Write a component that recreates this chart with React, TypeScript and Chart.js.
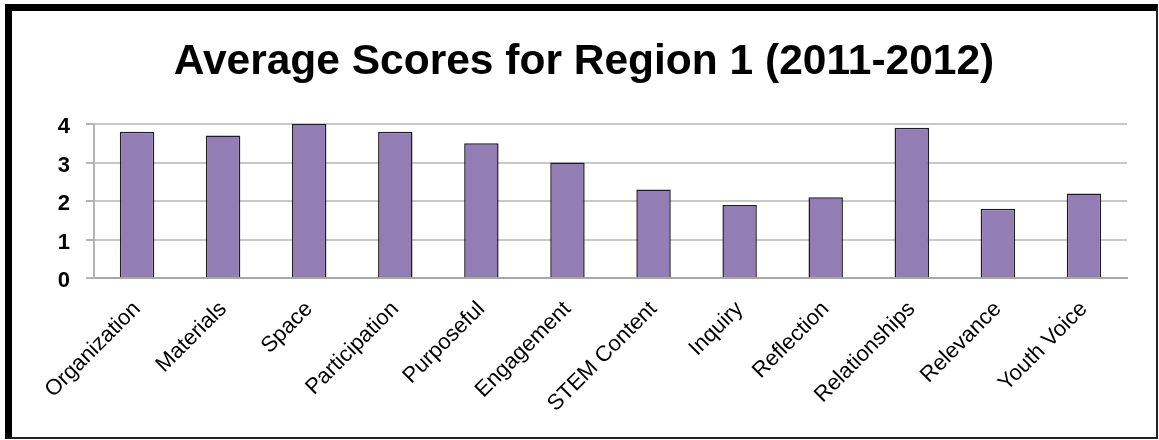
import React, { useEffect, useRef } from "react";
import { Chart, registerables } from "chart.js";

Chart.register(...registerables);

const categories: string[] = [
  "Organization",
  "Materials",
  "Space",
  "Participation",
  "Purposeful",
  "Engagement",
  "STEM Content",
  "Inquiry",
  "Reflection",
  "Relationships",
  "Relevance",
  "Youth Voice",
];

const averageScores: number[] = [3.8, 3.7, 4.0, 3.8, 3.5, 3.0, 2.3, 1.9, 2.1, 3.9, 1.8, 2.2];

const yTicks: number[] = [0, 1, 2, 3, 4];

const titleText = "Average Scores for Region 1 (2011-2012)";

const FONT = 'Arial, "Liberation Sans", sans-serif';

export default function App() {
  const canvasRef = useRef<HTMLCanvasElement | null>(null);

  useEffect(() => {
    const canvas = canvasRef.current;
    if (!canvas) return;
    const chart = new Chart(canvas, {
      type: "bar",
      data: {
        labels: categories,
        datasets: [
          {
            data: averageScores,
            backgroundColor: "#927db4",
            borderColor: "#1e1e1e",
            borderWidth: 1.5,
            barPercentage: 0.4,
            categoryPercentage: 1,
          },
        ],
      },
      options: {
        responsive: false,
        animation: false,
        layout: { padding: { left: 0, right: 0, top: 0, bottom: 0 } },
        plugins: {
          legend: { display: false },
          tooltip: { enabled: false },
          title: {
            display: true,
            text: titleText,
            color: "#000",
            font: { family: FONT, size: 42.5, weight: "bold" },
            padding: { top: 26, bottom: 36 },
          },
        },
        scales: {
          x: {
            grid: { display: false },
            border: { display: true, color: "#a8a8a8", width: 2 },
            ticks: {
              autoSkip: false,
              maxRotation: 45,
              minRotation: 45,
              color: "#000",
              font: { family: FONT, size: 22 },
              padding: 10,
              labelOffset: 0,
            },
            afterFit: (scale: any) => {
              scale.height = 158.7;
            },
          },
          y: {
            min: 0,
            max: 4,
            afterBuildTicks: (scale: any) => {
              scale.ticks = yTicks.map((v) => ({ value: v }));
            },
            grid: {
              color: "#c8c8c8",
              lineWidth: 2,
              tickLength: 8,
              tickColor: "#b4b4b4",
            },
            border: { display: true, color: "#b4b4b4", width: 2 },
            ticks: {
              color: "#000",
              font: { family: FONT, size: 22, weight: "bold" },
              padding: 16,
              labelOffset: 3,
            },
            afterFit: (scale: any) => {
              scale.width = 82;
            },
          },
          ySpacer: {
            type: "linear",
            position: "right",
            display: true,
            grid: { display: false, drawTicks: false },
            border: { display: false },
            ticks: { display: false },
            afterFit: (scale: any) => {
              scale.width = 29;
            },
          },
        },
      },
    });
    return () => chart.destroy();
  }, []);

  return (
    <div
      style={{
        position: "absolute",
        left: 5,
        top: 4,
        width: 1144,
        height: 426,
        borderLeft: "7px solid #000",
        borderTop: "7px solid #000",
        borderRight: "2px solid #222",
        borderBottom: "2px solid #222",
        background: "#fff",
      }}
    >
      <canvas ref={canvasRef} width={1144} height={426} style={{ display: "block", width: 1144, height: 426 }} />
    </div>
  );
}
